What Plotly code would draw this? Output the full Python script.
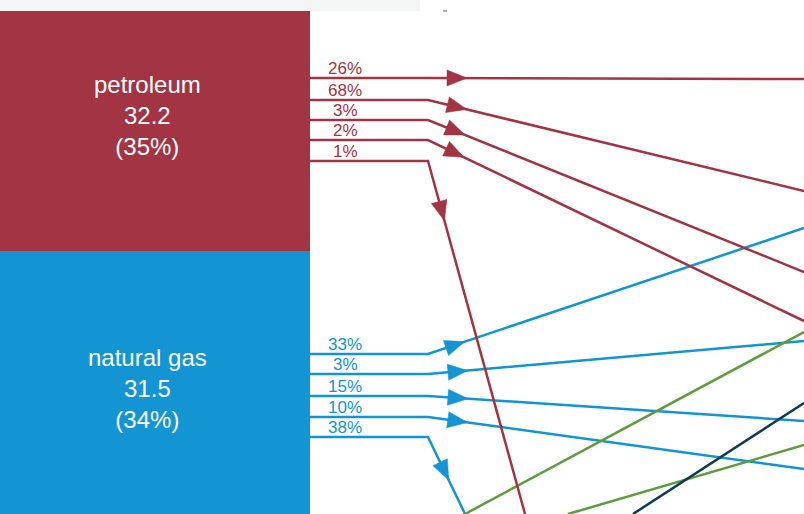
import math
import plotly.graph_objects as go

# ---- data ----
sources = ["petroleum", "natural gas"]
source_values = [32.2, 31.5]
source_shares = ["35%", "34%"]
source_colors = ["#a33444", "#1395d3"]

petroleum_pcts = ["26%", "68%", "3%", "2%", "1%"]
gas_pcts = ["33%", "3%", "15%", "10%", "38%"]

# ---- layout geometry (pixel space of the cropped view) ----
W, H = 804, 514
box_right = 310
box_tops = [11, 251]
box_bottoms = [251, 520]
bend_x = 428

petroleum_start_y = [78, 100, 120, 140, 161]
petroleum_end_x = [804, 804, 804, 804, 525]
petroleum_end_y = [79, 191, 272, 321, 514]
petroleum_arrow_dist = [39, 40, 40, 40, 62]

gas_start_y = [354, 374, 396, 417, 437]
gas_end_x = [804, 804, 804, 804, 465]
gas_end_y = [228, 341, 421, 469, 514]
gas_arrow_dist = [39, 40, 40, 40, 48]

# flows entering from outside the view
other_x0 = [465, 568, 633]
other_y0 = [514, 514, 514]
other_x1 = [804, 804, 804]
other_y1 = [332, 445, 403]
other_colors = ["#5e9c3e", "#5e9c3e", "#0d3a58"]

FONT = "Liberation Sans, Arial, sans-serif"

fig = go.Figure()
shapes = []
annotations = []

# top grey band
shapes.append(dict(type="rect", x0=0, x1=420, y0=0, y1=11, fillcolor="#f3f6f5",
                   line=dict(width=0), layer="below"))
shapes.append(dict(type="line", x0=443, x1=447, y0=11, y1=11,
                   line=dict(color="#999999", width=1.5)))

# source boxes
for i, name in enumerate(sources):
    shapes.append(dict(type="rect", x0=0, x1=box_right, y0=box_tops[i], y1=box_bottoms[i],
                       fillcolor=source_colors[i], line=dict(width=0), layer="below"))

annotations.append(dict(x=147, y=115, xref="x", yref="y",
                        text=f"{sources[0]}<br>{source_values[0]}<br>({source_shares[0]})",
                        showarrow=False, font=dict(family=FONT, size=24, color="white"),
                        align="center"))
annotations.append(dict(x=147, y=388, xref="x", yref="y",
                        text=f"{sources[1]}<br>{source_values[1]}<br>({source_shares[1]})",
                        showarrow=False, font=dict(family=FONT, size=24, color="white"),
                        align="center"))


def add_flow(y0, ex, ey, dist, color, label):
    xs = [box_right, bend_x, ex]
    ys = [y0, y0, ey]
    fig.add_trace(go.Scatter(x=xs, y=ys, mode="lines",
                             line=dict(color=color, width=2.5),
                             hoverinfo="skip", showlegend=False))
    dx, dy = ex - bend_x, ey - y0
    L = math.hypot(dx, dy)
    ux, uy = dx / L, dy / L
    tx, ty = bend_x + ux * dist, y0 + uy * dist
    bx, by = tx - ux * 20, ty - uy * 20
    px, py = -uy * 8, ux * 8
    fig.add_trace(go.Scatter(x=[tx, bx + px, bx - px, tx], y=[ty, by + py, by - py, ty],
                             mode="lines", fill="toself", fillcolor=color,
                             line=dict(color=color, width=0.5),
                             hoverinfo="skip", showlegend=False))
    annotations.append(dict(x=345, y=y0 - 9.5, xref="x", yref="y", text=label,
                            showarrow=False, font=dict(family=FONT, size=17, color=color)))


for i in range(len(gas_pcts)):
    add_flow(gas_start_y[i], gas_end_x[i], gas_end_y[i], gas_arrow_dist[i],
             source_colors[1], gas_pcts[i])

for i in range(len(other_x0)):
    fig.add_trace(go.Scatter(x=[other_x0[i], other_x1[i]], y=[other_y0[i], other_y1[i]],
                             mode="lines", line=dict(color=other_colors[i], width=2.5),
                             hoverinfo="skip", showlegend=False))

for i in range(len(petroleum_pcts)):
    add_flow(petroleum_start_y[i], petroleum_end_x[i], petroleum_end_y[i],
             petroleum_arrow_dist[i], source_colors[0], petroleum_pcts[i])

fig.update_layout(
    width=W, height=H,
    margin=dict(l=0, r=0, t=0, b=0),
    paper_bgcolor="white", plot_bgcolor="white",
    xaxis=dict(range=[0, W], visible=False, fixedrange=True),
    yaxis=dict(range=[H, 0], visible=False, fixedrange=True),
    shapes=shapes, annotations=annotations,
    showlegend=False,
)

fig.write_html("out.html", config={"displayModeBar": False},
               post_script="document.body.style.margin='0';document.body.style.padding='0';"
                           "document.body.style.overflow='hidden';")
